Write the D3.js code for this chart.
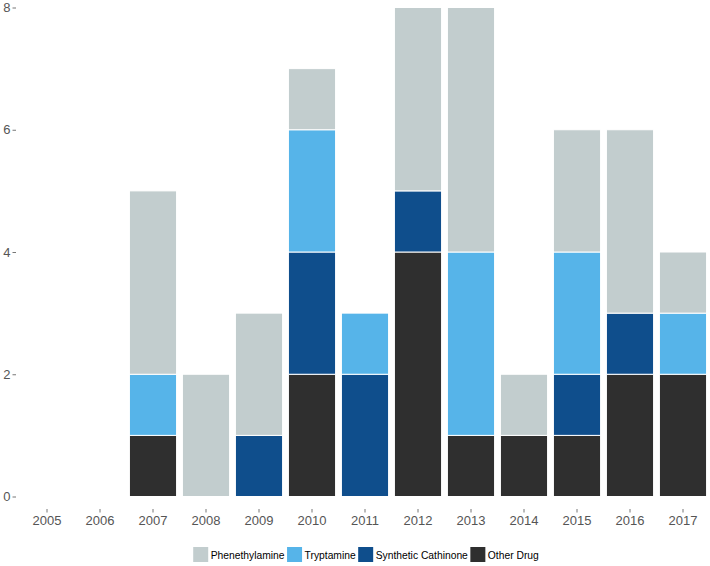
<!DOCTYPE html>
<html><head><meta charset="utf-8">
<script src="https://cdn.jsdelivr.net/npm/d3@7"></script>
<style>body{margin:0;background:#fff}svg{display:block;font-family:"Liberation Sans",Arial,sans-serif}</style>
</head><body>
<svg id="c" width="710" height="566"></svg>
<script>
const years = ["2005","2006","2007","2008","2009","2010","2011","2012","2013","2014","2015","2016","2017"];
const seriesNames = ["Other Drug","Synthetic Cathinone","Tryptamine","Phenethylamine"];
const otherDrug          = [0,0,1,0,0,2,0,4,1,1,1,2,2];
const syntheticCathinone = [0,0,0,0,1,2,2,1,0,0,1,1,0];
const tryptamine         = [0,0,1,0,0,2,1,0,3,0,2,0,1];
const phenethylamine     = [0,0,3,2,2,1,0,3,4,1,2,3,1];
const yTicks = [0,2,4,6,8];
const legendOrder = ["Phenethylamine","Tryptamine","Synthetic Cathinone","Other Drug"];
const colors = {"Phenethylamine":"#c2cdce","Tryptamine":"#56b4e9","Synthetic Cathinone":"#0f4e8c","Other Drug":"#2f2f2f"};

const valuesBy = {"Other Drug":otherDrug,"Synthetic Cathinone":syntheticCathinone,"Tryptamine":tryptamine,"Phenethylamine":phenethylamine};
const rows = years.map((y,i)=>{const r={year:y};seriesNames.forEach(s=>r[s]=valuesBy[s][i]);return r;});
const stack = d3.stack().keys(seriesNames)(rows);

const svg = d3.select("#c");
const x = d3.scaleBand().domain(years).range([20.5,709.5]).paddingInner(0.11).paddingOuter(0.055);
const y = d3.scaleLinear().domain([0,8]).range([496.5,7.5]);

svg.append("g").selectAll("g").data(stack).join("g")
  .attr("fill",d=>colors[d.key])
  .selectAll("rect").data(d=>d.filter(p=>p[1]-p[0]>0)).join("rect")
  .attr("x",d=>x(d.data.year))
  .attr("width",x.bandwidth())
  .attr("y",d=>y(d[1]))
  .attr("height",d=>y(d[0])-y(d[1]))
  .attr("stroke","#fff").attr("stroke-width",1);

// y axis
const ya = svg.append("g").attr("transform","translate(16,0)")
  .call(d3.axisLeft(y).tickValues(yTicks).tickFormat(d3.format("d")).tickSize(3.5).tickPadding(2));
ya.select(".domain").remove();
ya.selectAll("line").attr("stroke","#777").attr("stroke-width",1);
ya.selectAll("text").attr("fill","#555").attr("font-size",13).style("font-family","Liberation Sans, Arial, sans-serif");

// x axis
const xa = svg.append("g").attr("transform","translate(0,509)")
  .call(d3.axisBottom(x).tickSize(3.5).tickPadding(3));
xa.select(".domain").remove();
xa.selectAll("line").attr("stroke","#777").attr("stroke-width",1);
xa.selectAll("text").attr("fill","#555").attr("font-size",13).style("font-family","Liberation Sans, Arial, sans-serif");

// legend
const lg = svg.append("g");
let cx = 0;
legendOrder.forEach(name=>{
  lg.append("rect").attr("x",cx).attr("y",547).attr("width",15).attr("height",15).attr("fill",colors[name]);
  const t = lg.append("text").attr("x",cx+17.5).attr("y",558.5).attr("font-size",10.3).attr("fill","#000").text(name);
  cx += 17.5 + t.node().getComputedTextLength() + 2.5;
});
const lw = cx - 2.5;
lg.attr("transform",`translate(${366 - lw/2},0)`);
</script>
</body></html>
